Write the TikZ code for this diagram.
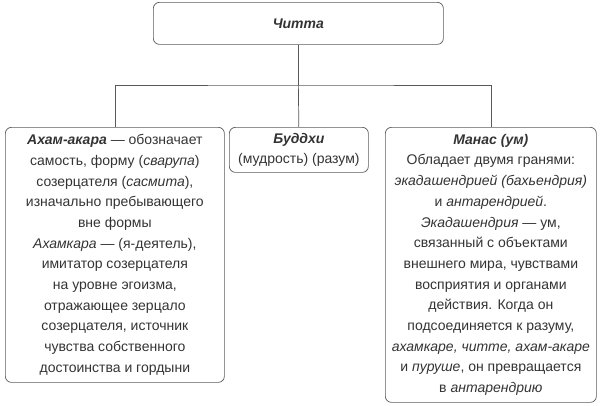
\documentclass[tikz,border=0pt]{standalone}
\usepackage{fontspec}
\setmainfont{Liberation Sans}
\begin{document}
\begin{tikzpicture}[x=1pt,y=-1pt,
  box/.style={draw=black!65,line width=0.7pt,rounded corners=6pt,anchor=north west,inner sep=0pt,align=center,text=black!80,font=\fontsize{14}{20.7}\selectfont},
  ln/.style={draw=black!65,line width=0.7pt}]
\useasboundingbox (0,0) rectangle (600,405);
\node[box,minimum width=290pt,minimum height=42pt] (top) at (153,2) {\bfseries\itshape Читта};
\node[box,minimum width=219pt,minimum height=255pt] (left) at (5,127) {%
\textbf{\textit{Ахам-акара}} — обозначает\\самость, форму (\textit{сварупа})\\созерцателя (\textit{сасмита}),\\изначально пребывающего\\вне формы\\\textit{Ахамкара} — (я-деятель),\\имитатор созерцателя\\на уровне эгоизма,\\отражающее зерцало\\созерцателя, источник\\чувства собственного\\достоинства и гордыни};
\node[box,minimum width=139pt,minimum height=45pt] (mid) at (229,127) {\textbf{\textit{Буддхи}}\\(мудрость) (разум)};
\node[box,minimum width=211pt,minimum height=275pt] (right) at (385,127) {%
\textbf{\textit{Манас (ум)}}\\Обладает двумя гранями:\\\textit{экадашендрией (бахьендрия)}\\и \textit{антарендрией}.\\\textit{Экадашендрия} — ум,\\связанный с объектами\\внешнего мира, чувствами\\восприятия и органами\\действия. Когда он\\подсоединяется к разуму,\\\textit{ахамкаре, читте, ахам-акаре}\\и \textit{пуруше}, он превращается\\в \textit{антарендрию}};
\coordinate (j) at (top.south |- 0,85);
\draw[ln] (top.south) -- (j);
\draw[ln] (left.north) |- (j) -| (right.north);
\draw[ln] (j) -- (mid.north);
\end{tikzpicture}
\end{document}
